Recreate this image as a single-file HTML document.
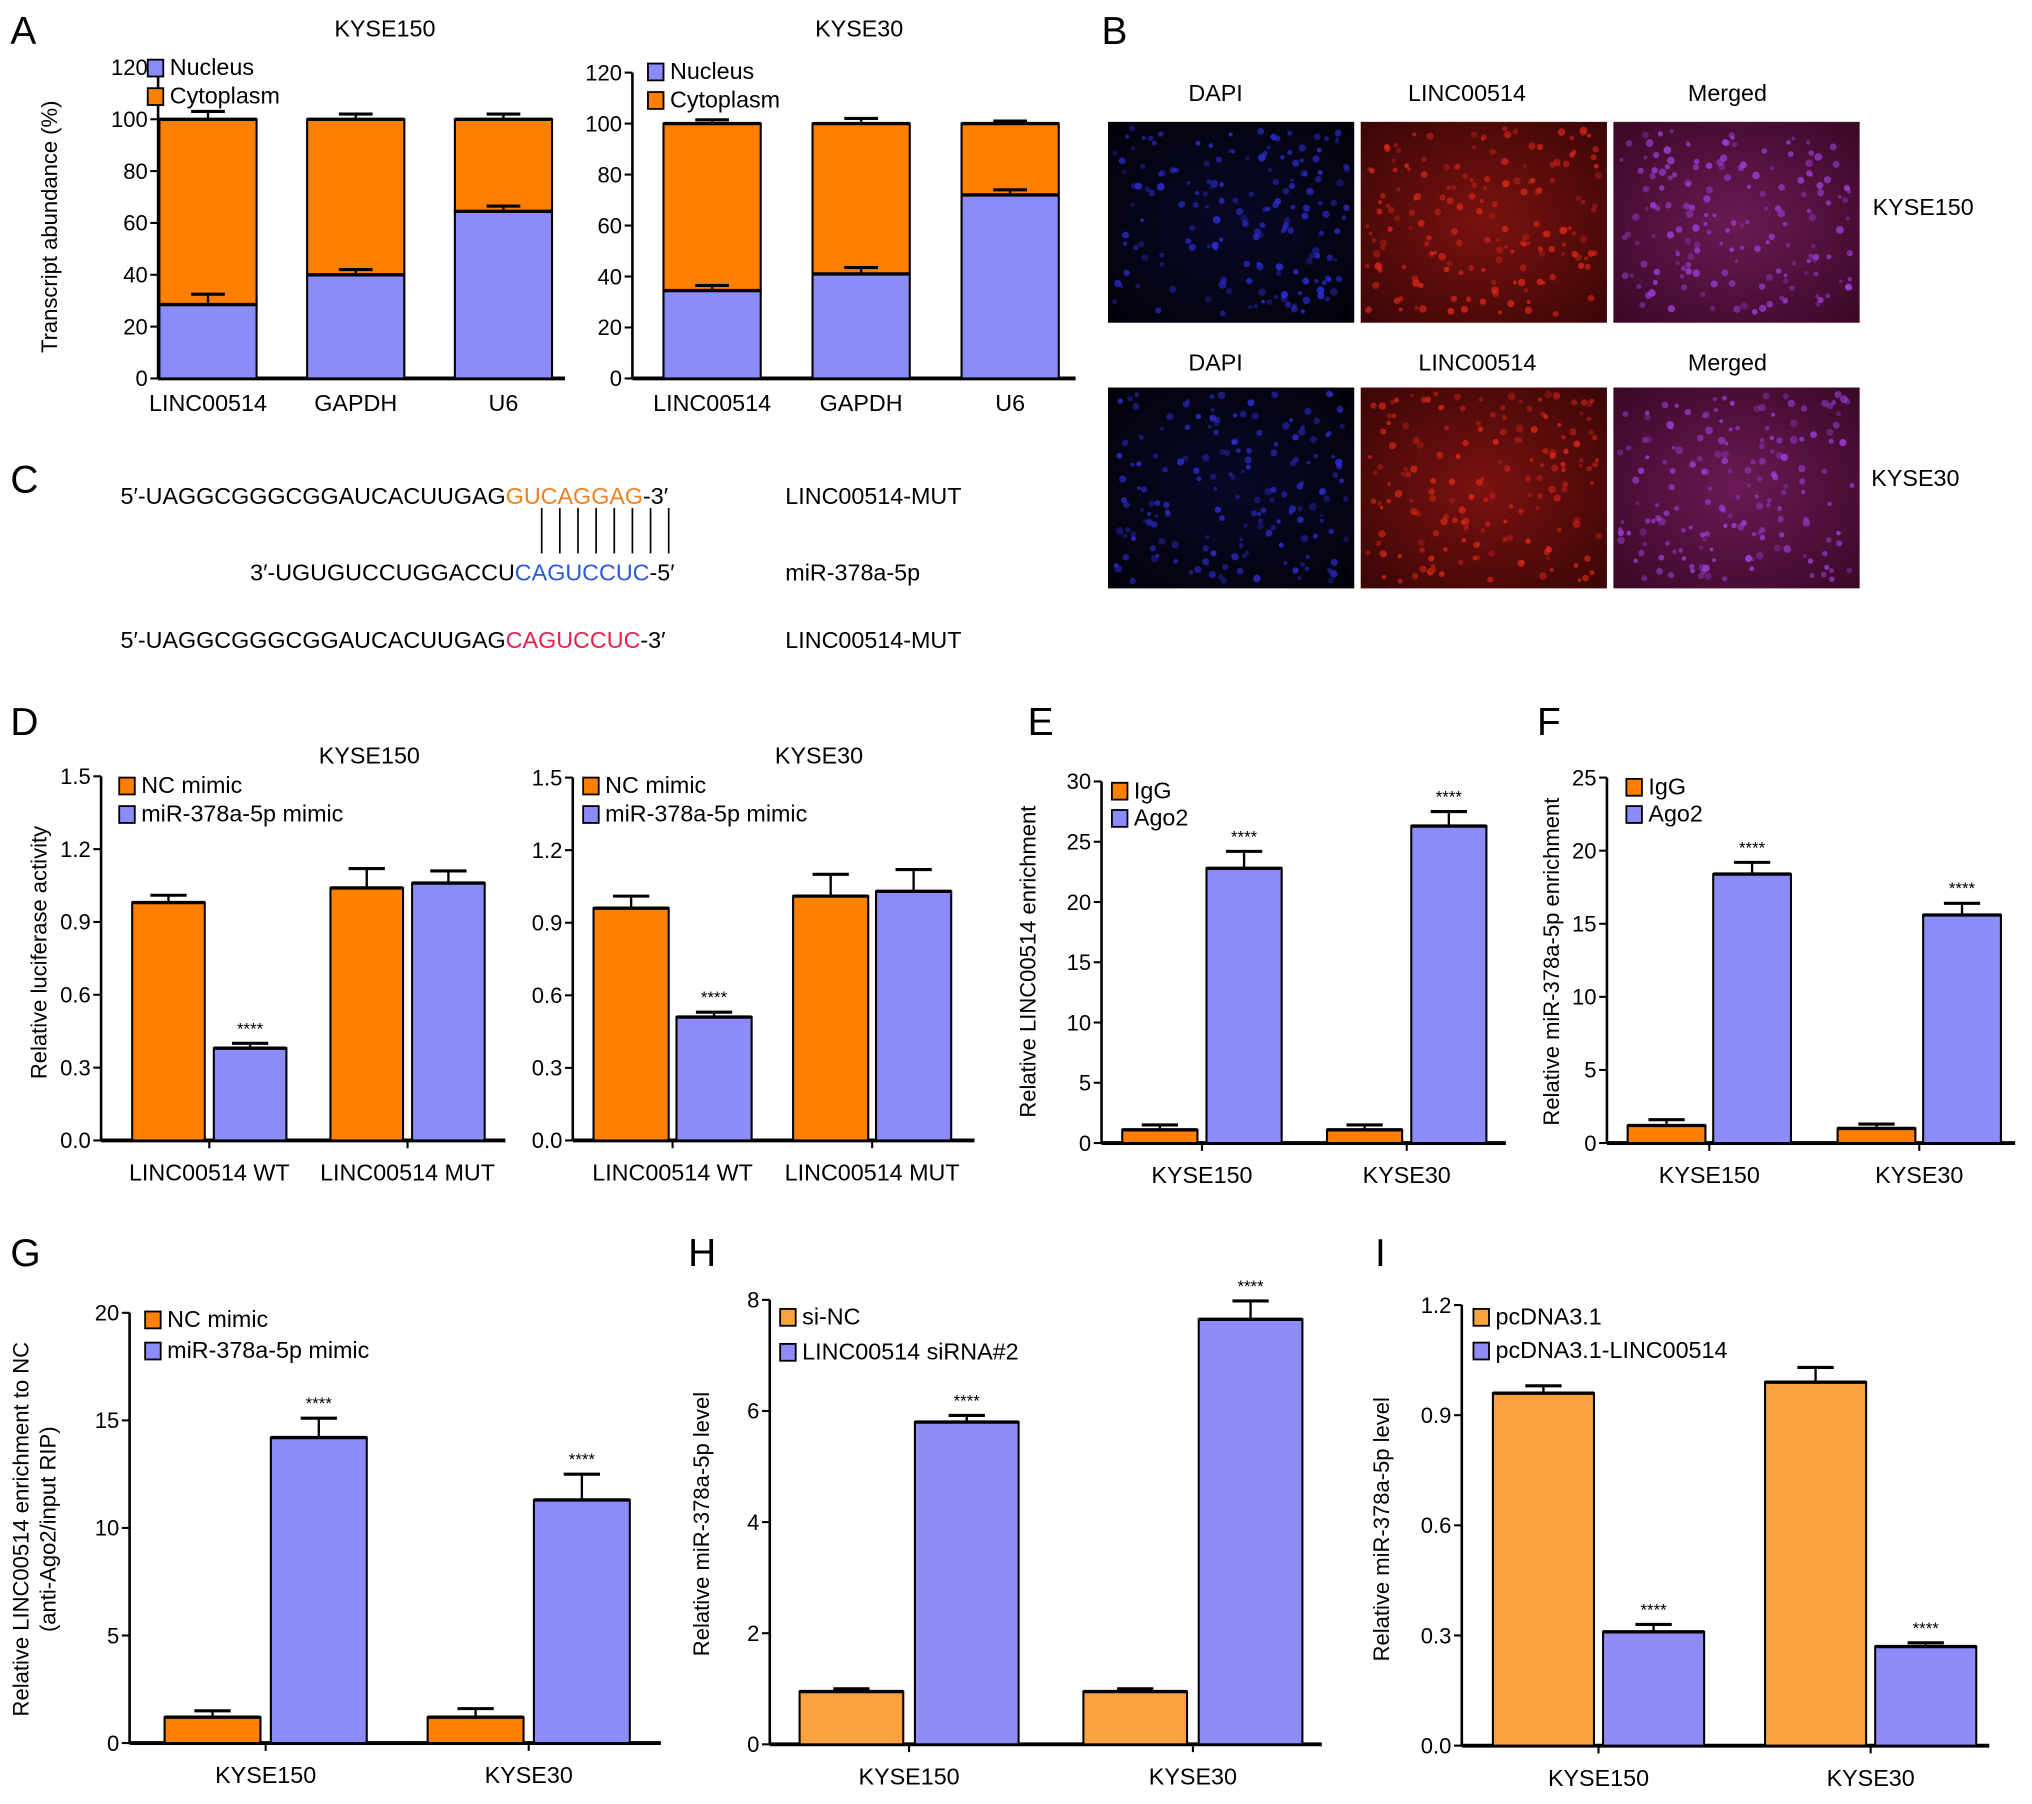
<!DOCTYPE html>
<html><head><meta charset="utf-8">
<style>
html,body{margin:0;padding:0;background:#fff;}
svg{display:block;font-family:"Liberation Sans",Arial,sans-serif;}
</style></head>
<body>
<svg id="fig" xmlns="http://www.w3.org/2000/svg" width="2032" height="1804" viewBox="0 0 1568 1392">
<rect x="0" y="0" width="1568" height="1392" fill="#fff"/>
<defs>
<radialGradient id="gDapi" cx="0.5" cy="0.5" r="0.7"><stop offset="0" stop-color="#080828"/><stop offset="1" stop-color="#02020a"/></radialGradient>
<radialGradient id="gRed" cx="0.5" cy="0.5" r="0.7"><stop offset="0" stop-color="#7a1210"/><stop offset="1" stop-color="#3a0606"/></radialGradient>
<radialGradient id="gMer" cx="0.5" cy="0.5" r="0.7"><stop offset="0" stop-color="#6a1a55"/><stop offset="1" stop-color="#3a0826"/></radialGradient>
</defs>
<g font-size="30">
<text x="8" y="34">A</text><text x="850" y="34">B</text><text x="8" y="380">C</text>
<text x="8" y="567">D</text><text x="793" y="567">E</text><text x="1186" y="567">F</text>
<text x="8" y="977">G</text><text x="531" y="977">H</text><text x="1061" y="977">I</text>
</g>
<g id="panelB" font-size="18" text-anchor="middle">
<text x="938" y="78">DAPI</text><text x="1132" y="78">LINC00514</text><text x="1333" y="78">Merged</text>
<text x="938" y="286">DAPI</text><text x="1140" y="286">LINC00514</text><text x="1333" y="286">Merged</text>
<text x="1484" y="166">KYSE150</text><text x="1478" y="375">KYSE30</text>
</g>
<g id="panelC" font-size="18">
<text x="93" y="389">5′-UAGGCGGGCGGAUCACUUGAG<tspan fill="#f08020">GUCAGGAG</tspan>-3′</text>
<text x="193" y="448">3′-UGUGUCCUGGACCU<tspan fill="#2a5ad8">CAGUCCUC</tspan>-5′</text>
<text x="93" y="500">5′-UAGGCGGGCGGAUCACUUGAG<tspan fill="#e8204a">CAGUCCUC</tspan>-3′</text>
<text x="606" y="389">LINC00514-MUT</text>
<text x="606" y="448">miR-378a-5p</text>
<text x="606" y="500">LINC00514-MUT</text>
<g id="pairs" stroke="#000" stroke-width="1.3"></g>
</g>
<g id="charts"></g>
</svg>
<script>
// ---------- DATA ----------
const A_cats = ['LINC00514','GAPDH','U6'];
const A1_nuc = [28.5, 40, 64.5];
const A1_nucErr = [32.5, 42, 66.5];
const A1_totErr = [103, 102, 102];
const A2_nuc = [34.5, 41, 72];
const A2_nucErr = [36.5, 43.5, 74];
const A2_totErr = [101.5, 102, 101];
const A_ticks = [0,20,40,60,80,100,120];

const D_cats = ['LINC00514 WT','LINC00514 MUT'];
const D_ticks = ['0.0','0.3','0.6','0.9','1.2','1.5'];
const D1_nc = [0.98, 1.04];
const D1_nc_err = [1.01, 1.12];
const D1_mi = [0.38, 1.06];
const D1_mi_err = [0.40, 1.11];
const D1_star = [true, false];
const D2_nc = [0.96, 1.01];
const D2_nc_err = [1.01, 1.10];
const D2_mi = [0.51, 1.03];
const D2_mi_err = [0.53, 1.12];
const D2_star = [true, false];

const cell_cats = ['KYSE150','KYSE30'];
const E_ticks = ['0','5','10','15','20','25','30'];
const E_igg = [1.1, 1.1];
const E_igg_err = [1.5, 1.5];
const E_ago = [22.8, 26.3];
const E_ago_err = [24.2, 27.5];
const F_ticks = ['0','5','10','15','20','25'];
const F_igg = [1.2, 1.0];
const F_igg_err = [1.6, 1.3];
const F_ago = [18.4, 15.6];
const F_ago_err = [19.2, 16.4];
const G_ticks = ['0','5','10','15','20'];
const G_nc = [1.2, 1.2];
const G_nc_err = [1.5, 1.6];
const G_mi = [14.2, 11.3];
const G_mi_err = [15.1, 12.5];
const H_ticks = ['0','2','4','6','8'];
const H_nc = [0.95, 0.95];
const H_nc_err = [1.0, 1.0];
const H_si = [5.8, 7.65];
const H_si_err = [5.92, 7.98];
const I_ticks = ['0.0','0.3','0.6','0.9','1.2'];
const I_pc = [0.96, 0.99];
const I_pc_err = [0.98, 1.03];
const I_lnc = [0.31, 0.27];
const I_lnc_err = [0.33, 0.28];

// ---------- DRAW ----------
const NS='http://www.w3.org/2000/svg';
const root=document.getElementById('charts');
function mk(tag, attrs, parent){const e=document.createElementNS(NS,tag);for(const k in attrs)e.setAttribute(k,attrs[k]);(parent||root).appendChild(e);return e;}
const OR='#ff8000', PU='#8c8cf8', OR2='#f9a23e', PU2='#8f8cf7';

for(let i=0;i<8;i++){
  const l=mk('line',{x1:418+i*14,x2:418+i*14,y1:392,y2:427},document.getElementById('pairs'));
  
  
}

const micro=[['url(#gDapi)','#3030e0'],['url(#gRed)','#e02818'],['url(#gMer)','#a040e0']];
const colX=[855,1050,1245], rowY=[94,299];
let seed=7;function rnd(){seed=(seed*16807)%2147483647;return seed/2147483647;}
rowY.forEach((ry,r)=>colX.forEach((cx,c)=>{
  const g=mk('g',{},document.getElementById('panelB'));
  
  
  mk('rect',{x:cx,y:ry,width:190,height:155,fill:micro[c][0]},g);
  for(let k=0;k<170;k++){
    mk('circle',{cx:cx+5+rnd()*180,cy:ry+5+rnd()*145,r:1.4+rnd()*1.6,fill:micro[c][1],opacity:0.3+rnd()*0.5},g);
  }
}));

function text(x,y,s,opts,parent){const t=mk('text',Object.assign({x:x,y:y},opts||{}),parent);t.textContent=s;return t;}

function axis(cfg){
  const g=mk('g',{});
  
  
  const n=cfg.ticks.length-1;
  const yv=v=>cfg.y0-(v/cfg.max)*(cfg.y0-cfg.yTop);
  const ax=mk('line',{x1:cfg.ax,x2:cfg.ax,y1:cfg.y0,y2:cfg.yTop,stroke:'#000','stroke-width':2},g);
  
  
  cfg.ticks.forEach((t,i)=>{
    const v=cfg.max*i/n, y=yv(v);
    mk('line',{x1:cfg.ax-6,x2:cfg.ax,y1:y,y2:y,stroke:'#000','stroke-width':1.6},g);
    const tl=text(cfg.ax-8,y+6,String(t),{'font-size':17,'text-anchor':'end'},g);
    
    
  });
  const xl=mk('line',{x1:cfg.ax,x2:cfg.xEnd,y1:cfg.y0,y2:cfg.y0,stroke:'#000','stroke-width':3},g);
  
  
  if(cfg.ylab){
    cfg.ylab.forEach((s,i)=>{
      const t=text(0,0,s,{'font-size':cfg.ylabSize||17,'text-anchor':'middle',transform:`translate(${cfg.ylabX+i*21},${cfg.ylabY}) rotate(-90)`},g);
      
      
    });
  }
  if(cfg.title){const t=text(cfg.titleX,cfg.titleY,cfg.title,{'font-size':18,'text-anchor':'middle'},g);
    
    }
  cfg.legend.forEach((L,i)=>{
    const ly=cfg.legY+i*cfg.legStep;
    const sw=mk('rect',{x:cfg.legX,y:ly-11,width:12,height:13,fill:L[1],stroke:'#000','stroke-width':1.4},g);
    
    
    const lt=text(cfg.legX+17,ly+1,L[0],{'font-size':18},g);
    
    
  });
  return {g:g,yv:yv};
}

function errbar(g,cx,yTop,yEnd,cap){
  const l=mk('line',{x1:cx,x2:cx,y1:yTop,y2:yEnd,stroke:'#000','stroke-width':1.8},g);
  
  
  const c=mk('line',{x1:cx-cap,x2:cx+cap,y1:yEnd,y2:yEnd,stroke:'#000','stroke-width':2.4},g);
  
  
}

function bar(g,x,w,y0,y1,fill,name){
  const r=mk('rect',{x:x,y:y1,width:w,height:y0-y1,fill:fill,stroke:'#000','stroke-width':1.6},g);
  
  
  mk('line',{x1:x,x2:x+w,y1:y1,y2:y1,stroke:'#000','stroke-width':2.6},g);
  return r;
}

function stacked(cfg,nuc,nucErr,totErr){
  const A=axis(cfg);
  A_cats.forEach((c,i)=>{
    const x=cfg.x0+i*cfg.pitch, w=cfg.w, cx=x+w/2;
    errbar(A.g,cx,A.yv(100),A.yv(totErr[i]),13);
    bar(A.g,x,w,A.yv(nuc[i]),A.yv(100),OR,'bar-cytoplasm-'+c.toLowerCase());
    errbar(A.g,cx,A.yv(nuc[i]),A.yv(nucErr[i]),13);
    bar(A.g,x,w,cfg.y0,A.yv(nuc[i]),PU,'bar-nucleus-'+c.toLowerCase());
    const xl=text(cx,cfg.y0+25,c,{'font-size':18,'text-anchor':'middle'},A.g);
    
    
  });
}

function grouped(cfg,cats,s1,e1,s2,e2,stars,c1,c2){
  const A=axis(cfg);
  cats.forEach((c,i)=>{
    const x=cfg.x0+i*cfg.pitch, w=cfg.w;
    const x2=x+w+cfg.gap;
    errbar(A.g,x+w/2,A.yv(s1[i]),A.yv(e1[i]),Math.min(14,w/4));
    bar(A.g,x,w,cfg.y0,A.yv(s1[i]),c1,'bar-'+cfg.key+'-s1-'+i);
    errbar(A.g,x2+w/2,A.yv(s2[i]),A.yv(e2[i]),Math.min(14,w/4));
    bar(A.g,x2,w,cfg.y0,A.yv(s2[i]),c2,'bar-'+cfg.key+'-s2-'+i);
    if(stars && stars[i]){
      const st=text(x2+w/2,A.yv(e2[i])-7,'****',{'font-size':13,'text-anchor':'middle'},A.g);
      
      
    }
    const gc=x+w+cfg.gap/2;
    mk('line',{x1:gc,x2:gc,y1:cfg.y0,y2:cfg.y0+6,stroke:'#000','stroke-width':1.6},A.g);
    const xl=text(gc,cfg.y0+31,c,{'font-size':18,'text-anchor':'middle'},A.g);
    
    
  });
}

stacked({name:'chart-a-kyse150',ticks:A_ticks,max:120,ax:122,y0:292,yTop:52,xEnd:436,ylab:['Transcript abundance (%)'],ylabX:44,ylabY:175,
  title:'KYSE150',titleX:297,titleY:28,legend:[['Nucleus',PU],['Cytoplasm',OR]],legX:114,legY:57,legStep:22,x0:123,w:75,pitch:114},A1_nuc,A1_nucErr,A1_totErr);
stacked({name:'chart-a-kyse30',ticks:A_ticks,max:120,ax:488,y0:292,yTop:56,xEnd:830,
  title:'KYSE30',titleX:663,titleY:28,legend:[['Nucleus',PU],['Cytoplasm',OR]],legX:500,legY:60,legStep:22,x0:512,w:75,pitch:115},A2_nuc,A2_nucErr,A2_totErr);

grouped({name:'chart-d-kyse150',key:'d1',ticks:D_ticks,max:1.5,ax:78,y0:880,yTop:599,xEnd:390,ylab:['Relative luciferase activity'],ylabX:36,ylabY:735,
  title:'KYSE150',titleX:285,titleY:589,legend:[['NC mimic',OR],['miR-378a-5p mimic',PU]],legX:92,legY:611,legStep:22,x0:102,w:56,gap:7,pitch:153},
  D_cats,D1_nc,D1_nc_err,D1_mi,D1_mi_err,D1_star,OR,PU);
grouped({name:'chart-d-kyse30',key:'d2',ticks:D_ticks,max:1.5,ax:442,y0:880,yTop:600,xEnd:752,
  title:'KYSE30',titleX:632,titleY:589,legend:[['NC mimic',OR],['miR-378a-5p mimic',PU]],legX:450,legY:611,legStep:22,x0:458,w:58,gap:6,pitch:154},
  D_cats,D2_nc,D2_nc_err,D2_mi,D2_mi_err,D2_star,OR,PU);
grouped({name:'chart-e',key:'e',ticks:E_ticks,max:30,ax:850,y0:882,yTop:603,xEnd:1162,ylab:['Relative LINC00514 enrichment'],ylabX:799,ylabY:742,
  legend:[['IgG',OR],['Ago2',PU]],legX:858,legY:615,legStep:21,x0:866,w:58,gap:7,pitch:158},
  cell_cats,E_igg,E_igg_err,E_ago,E_ago_err,[true,true],OR,PU);
grouped({name:'chart-f',key:'f',ticks:F_ticks,max:25,ax:1240,y0:882,yTop:600,xEnd:1555,ylab:['Relative miR-378a-5p enrichment'],ylabX:1203,ylabY:742,
  legend:[['IgG',OR],['Ago2',PU]],legX:1255,legY:612,legStep:21,x0:1256,w:60,gap:6,pitch:162},
  cell_cats,F_igg,F_igg_err,F_ago,F_ago_err,[true,true],OR,PU);
grouped({name:'chart-g',key:'g',ticks:G_ticks,max:20,ax:100,y0:1345,yTop:1013,xEnd:510,ylab:['Relative LINC00514 enrichment to NC','(anti-Ago2/input RIP)'],ylabX:22,ylabY:1180,
  legend:[['NC mimic',OR],['miR-378a-5p mimic',PU]],legX:112,legY:1023,legStep:24,x0:127,w:74,gap:8,pitch:203},
  cell_cats,G_nc,G_nc_err,G_mi,G_mi_err,[true,true],OR,PU);
grouped({name:'chart-h',key:'h',ticks:H_ticks,max:8,ax:594,y0:1346,yTop:1003,xEnd:1020,ylab:['Relative miR-378a-5p level'],ylabX:547,ylabY:1176,
  legend:[['si-NC',OR2],['LINC00514 siRNA#2',PU2]],legX:602,legY:1021,legStep:27,x0:617,w:80,gap:9,pitch:219},
  cell_cats,H_nc,H_nc_err,H_si,H_si_err,[true,true],OR2,PU2);
grouped({name:'chart-i',key:'i',ticks:I_ticks,max:1.2,ax:1128,y0:1347,yTop:1007,xEnd:1535,ylab:['Relative miR-378a-5p level'],ylabX:1072,ylabY:1180,
  legend:[['pcDNA3.1',OR2],['pcDNA3.1-LINC00514',PU2]],legX:1137,legY:1021,legStep:26,x0:1152,w:78,gap:7,pitch:210},
  cell_cats,I_pc,I_pc_err,I_lnc,I_lnc_err,[true,true],OR2,PU2);
</script>
</body></html>
